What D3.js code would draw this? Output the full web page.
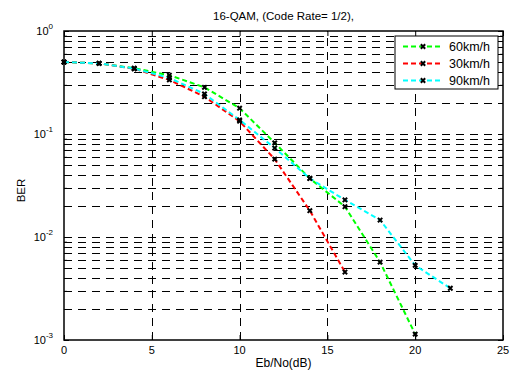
<!DOCTYPE html>
<html>
<head>
<meta charset="utf-8">
<script src="https://cdn.jsdelivr.net/npm/d3@7"></script>
<style>
  body { margin: 0; background: #fff; }
  svg text { font-family: "Liberation Sans", Arial, sans-serif; fill: #000; }
</style>
</head>
<body>
<div id="chart"></div>
<script>
// Eb/No in dB and BER per vehicle speed
const ebno = [0, 2, 4, 6, 8, 10, 12, 14, 16, 18, 20, 22];
const ber60 = [0.50, 0.485, 0.435, 0.372, 0.284, 0.178, 0.082, 0.037, 0.0197, 0.0057, 0.00114];
const ber30 = [0.50, 0.485, 0.43, 0.335, 0.23, 0.133, 0.057, 0.018, 0.00457];
const ber90 = [0.50, 0.485, 0.432, 0.35, 0.245, 0.137, 0.073, 0.037, 0.0229, 0.0146, 0.0053, 0.00318];
const seriesNames = ['60km/h', '30km/h', '90km/h'];
const seriesColors = ['#00ff00', '#ff0000', '#00ffff'];
const xTicks = [0, 5, 10, 15, 20, 25];
const yDecades = [1e-3, 1e-2, 1e-1, 1];

const width = 513;
const height = 372;
const margin = { top: 31, right: 10, bottom: 32, left: 64 };

const series = [ber60, ber30, ber90].map((vals, i) => ({
  name: seriesNames[i],
  color: seriesColors[i],
  values: vals.map((v, j) => ({ x: ebno[j], y: v }))
}));

/* Scales */
const xScale = d3.scaleLinear()
  .domain([0, 25])
  .range([margin.left, width - margin.right]);

const yScale = d3.scaleLog()
  .domain([1e-3, 1])
  .range([height - margin.bottom, margin.top]);

const x0 = xScale.range()[0], x1 = xScale.range()[1];
const y0 = yScale.range()[0], y1 = yScale.range()[1];

// minor values 2..9 x 10^k
const minorVals = [];
yDecades.slice(0, -1).forEach((d) => {
  for (let k = 2; k <= 9; k++) minorVals.push(k * d);
});

const svg = d3.select('#chart')
  .append('svg')
  .attr('width', width)
  .attr('height', height);

/* Grid */
const grid = svg.append('g')
  .attr('stroke', '#000')
  .attr('stroke-width', 1)
  .attr('stroke-dasharray', '8,6')
  .attr('fill', 'none');

grid.selectAll('.hgrid')
  .data(yDecades.slice(1, -1).concat(minorVals))
  .enter()
  .append('line')
  .attr('x1', x0).attr('x2', x1)
  .attr('y1', (d) => Math.round(yScale(d)) + 0.5)
  .attr('y2', (d) => Math.round(yScale(d)) + 0.5);

grid.selectAll('.vgrid')
  .data(xTicks.slice(1, -1))
  .enter()
  .append('line')
  .attr('y1', y0).attr('y2', y1)
  .attr('x1', (d) => Math.round(xScale(d)) + 0.5)
  .attr('x2', (d) => Math.round(xScale(d)) + 0.5);

/* Axes (ticks point inward) */
const axisBits = (g) => {
  g.select('.domain').remove();
  g.selectAll('line').attr('stroke', '#000').attr('stroke-width', 1);
};

svg.append('g')
  .attr('transform', `translate(${x0},0)`)
  .call(d3.axisLeft(yScale).tickValues(yDecades).tickSize(-5).tickFormat(''))
  .call(axisBits);
svg.append('g')
  .attr('transform', `translate(${x0},0)`)
  .call(d3.axisLeft(yScale).tickValues(minorVals).tickSize(-3).tickFormat(''))
  .call(axisBits);
svg.append('g')
  .attr('transform', `translate(${x1},0)`)
  .call(d3.axisRight(yScale).tickValues(yDecades).tickSize(-5).tickFormat(''))
  .call(axisBits);
svg.append('g')
  .attr('transform', `translate(${x1},0)`)
  .call(d3.axisRight(yScale).tickValues(minorVals).tickSize(-3).tickFormat(''))
  .call(axisBits);
svg.append('g')
  .attr('transform', `translate(0,${y0})`)
  .call(d3.axisBottom(xScale).tickValues(xTicks).tickSize(-5).tickFormat(''))
  .call(axisBits);
svg.append('g')
  .attr('transform', `translate(0,${y1})`)
  .call(d3.axisTop(xScale).tickValues(xTicks).tickSize(-5).tickFormat(''))
  .call(axisBits);

// tick labels
svg.selectAll('.xlab')
  .data(xTicks)
  .enter()
  .append('text')
  .attr('x', (d) => xScale(d))
  .attr('y', y0 + 14)
  .attr('text-anchor', 'middle')
  .style('font-size', '11px')
  .text((d) => d);

const ylab = svg.selectAll('.ylab')
  .data(yDecades)
  .enter()
  .append('text')
  .attr('x', x0 - 11)
  .attr('y', (d) => yScale(d) + 4)
  .attr('text-anchor', 'end')
  .style('font-size', '11px');
ylab.append('tspan').text('10');
ylab.append('tspan')
  .attr('dy', -6)
  .style('font-size', '8px')
  .text((d) => Math.round(Math.log10(d)));

/* Lines */
const line = d3.line()
  .x((d) => xScale(d.x))
  .y((d) => yScale(d.y));

const marker = d3.symbol().type(d3.symbolX).size(14);

const lines = svg.append('g').attr('class', 'lines');
series.forEach((s) => {
  lines.append('path')
    .attr('d', line(s.values))
    .attr('fill', 'none')
    .attr('stroke', s.color)
    .attr('stroke-width', 2)
    .attr('stroke-dasharray', '5,3');
});
series.forEach((s) => {
  lines.selectAll(null)
    .data(s.values)
    .enter()
    .append('path')
    .attr('d', marker)
    .attr('transform', (d) => `translate(${xScale(d.x)},${yScale(d.y)})`)
    .attr('fill', 'none')
    .attr('stroke', '#000')
    .attr('stroke-width', 2);
});

/* Plot box */
svg.append('rect')
  .attr('x', x0).attr('y', y1)
  .attr('width', x1 - x0).attr('height', y0 - y1)
  .attr('fill', 'none')
  .attr('stroke', '#000')
  .attr('stroke-width', 1.5);

/* Legend */
const legend = svg.append('g').attr('transform', 'translate(395,36)');
legend.append('rect')
  .attr('width', 103).attr('height', 53)
  .attr('fill', '#fff')
  .attr('stroke', '#000')
  .attr('stroke-width', 1);
const item = legend.selectAll('.item')
  .data(series)
  .enter()
  .append('g')
  .attr('transform', (d, i) => `translate(0,${10.5 + i * 17})`);
item.append('line')
  .attr('x1', 8).attr('x2', 47)
  .attr('stroke', (d) => d.color)
  .attr('stroke-width', 2)
  .attr('stroke-dasharray', '5,3');
item.append('path')
  .attr('d', marker)
  .attr('transform', 'translate(28,0)')
  .attr('fill', 'none')
  .attr('stroke', '#000')
  .attr('stroke-width', 2);
item.append('text')
  .attr('x', 54)
  .attr('y', 4.5)
  .style('font-size', '12.5px')
  .text((d) => d.name);

/* Titles */
svg.append('text')
  .attr('x', (x0 + x1) / 2)
  .attr('y', 20)
  .attr('text-anchor', 'middle')
  .style('font-size', '11.5px')
  .text('16-QAM, (Code Rate= 1/2),');

svg.append('text')
  .attr('x', (x0 + x1) / 2)
  .attr('y', 367)
  .attr('text-anchor', 'middle')
  .style('font-size', '12px')
  .text('Eb/No(dB)');

svg.append('text')
  .attr('transform', `translate(25,${(y0 + y1) / 2 + 5}) rotate(-90)`)
  .attr('text-anchor', 'middle')
  .style('font-size', '11.5px')
  .text('BER');
</script>
</body>
</html>
